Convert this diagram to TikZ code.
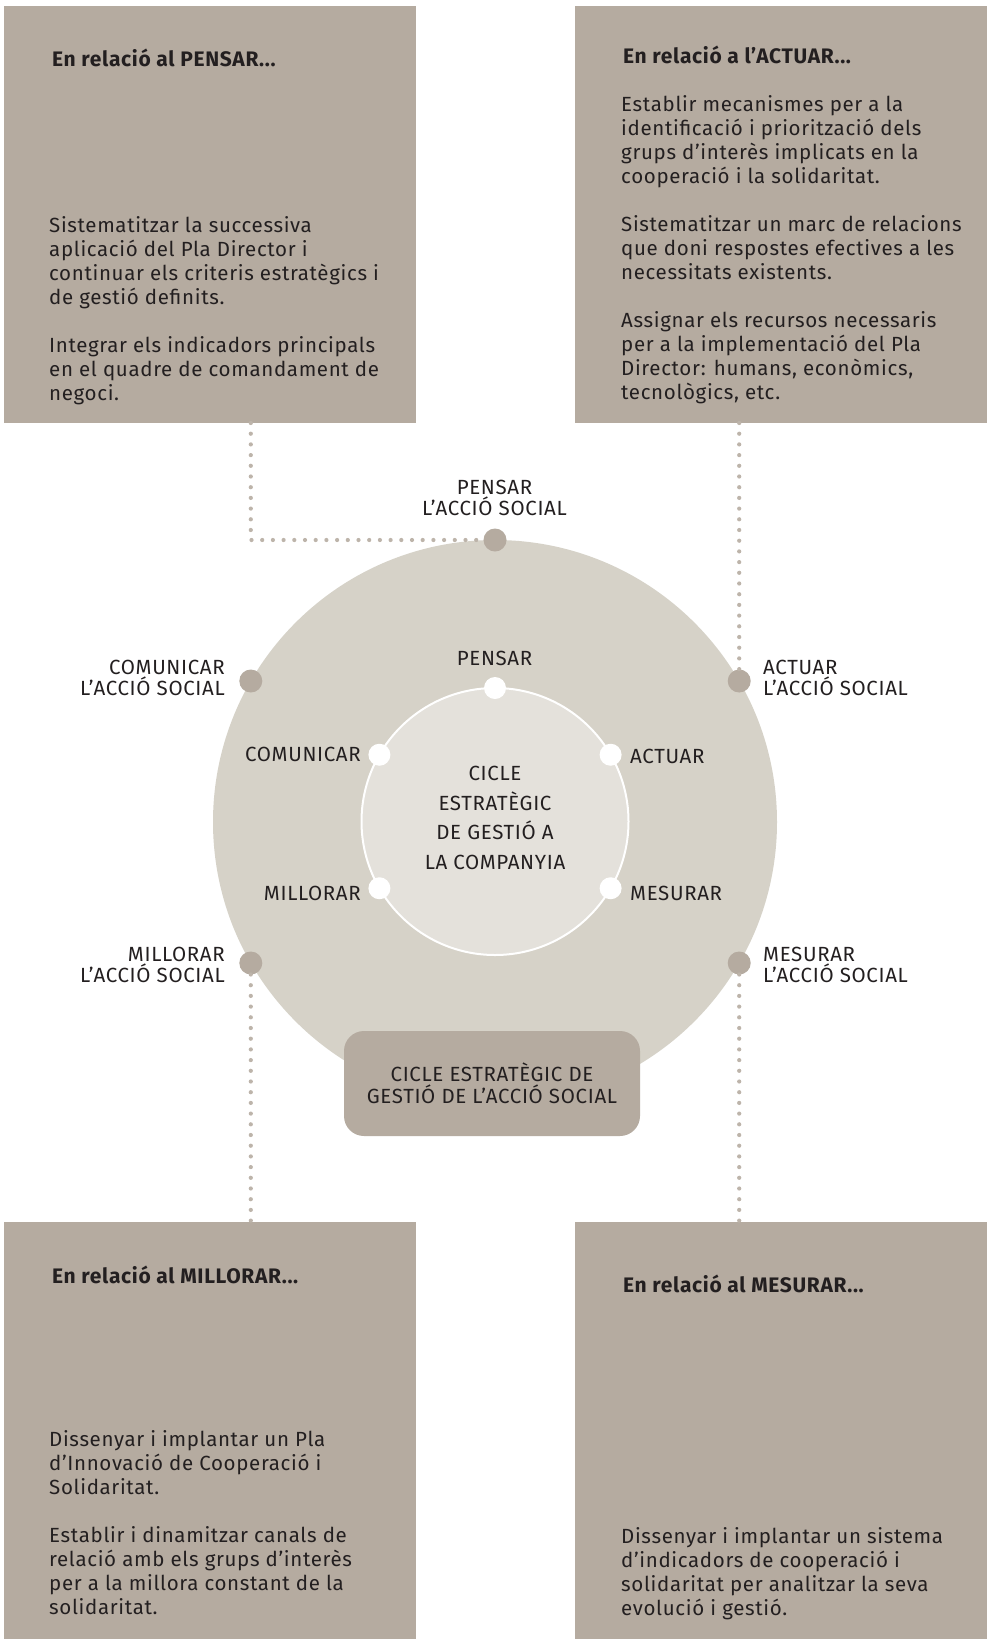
\documentclass[tikz,border=0pt]{standalone}
\usepackage{fontspec}
\setmainfont{Fira Sans}[LetterSpace=3.2]
\definecolor{boxc}{HTML}{B5ABA0}
\definecolor{outerc}{HTML}{D6D2C8}
\definecolor{innerc}{HTML}{E4E1DB}
\definecolor{dotc}{HTML}{BDB4AA}
\definecolor{txt}{HTML}{231F20}
\begin{document}
\begin{tikzpicture}[x=1pt,y=-1pt,
  panel/.style={fill=boxc, draw=none, minimum width=412pt, minimum height=417pt, inner sep=0pt, outer sep=0pt, anchor=north west},
  head/.style={font=\bfseries\fontsize{21}{24}\selectfont, text=txt, anchor=base west, inner sep=0pt},
  body/.style={font=\fontsize{20.5}{24}\selectfont, text=txt, align=left, anchor=base west, inner sep=0pt},
  lab/.style={font=\fontsize{20.5}{21}\selectfont, text=txt, inner sep=0pt},
  odot/.style={circle, fill=boxc, minimum size=23pt, inner sep=0pt, outer sep=0pt},
  idot/.style={circle, fill=white, minimum size=22pt, inner sep=0pt, outer sep=0pt},
  dotline/.style={draw=dotc, line width=4.2pt, line cap=round, dash pattern=on 0pt off 10.7pt}
]
\useasboundingbox (0,0) rectangle (991,1639);
\fill[white] (0,0) rectangle (991,1639);

% panels
\node[panel] (tlbox) at (4,6) {};
\node[panel] (trbox) at (575,6) {};
\node[panel] (blbox) at (4,1222) {};
\node[panel] (brbox) at (575,1222) {};

% circles
\node[circle, fill=outerc, minimum size=564pt, inner sep=0pt] (outer) at (495,822) {};
\node[circle, fill=innerc, draw=white, line width=2pt, minimum size=267pt, inner sep=0pt] (inner) at (495,821.5) {};

% outer dots
\node[odot] (oPensar) at (495,540) {};
\node[odot] (oComunicar) at (250.8,681) {};
\node[odot] (oActuar) at (739.2,681) {};
\node[odot] (oMillorar) at (250.8,963) {};
\node[odot] (oMesurar) at (739.2,963) {};

% inner dots
\node[idot] (iPensar) at (495,688) {};
\node[idot] (iComunicar) at (379.4,754.75) {};
\node[idot] (iActuar) at (610.6,754.75) {};
\node[idot] (iMillorar) at (379.4,888.25) {};
\node[idot] (iMesurar) at (610.6,888.25) {};

% bottom label box
\node[fill=boxc, rounded corners=20pt, minimum width=296pt, minimum height=105pt, inner sep=0pt,
  font=\fontsize{20.5}{22}\selectfont, text=txt, align=center] (cycle) at (492,1083.5)
  {CICLE ESTRATÈGIC DE\\GESTIÓ DE L’ACCIÓ SOCIAL};

% connectors
\draw[dotline] (tlbox.south -| oComunicar) |- (oPensar.west);
\draw[dotline] (trbox.south -| oActuar) -- (oActuar.north);
\draw[dotline] (oMillorar.south) -- (blbox.north -| oMillorar);
\draw[dotline] (oMesurar.south) -- (brbox.north -| oMesurar);

% outer labels (base = last line)
\node[lab, align=center, anchor=base] (lPensar) at (494.5,515) {PENSAR\\L’ACCIÓ SOCIAL};
\node[lab, align=right, anchor=base east] (lComunicar) at (225,695) {COMUNICAR\\L’ACCIÓ SOCIAL};
\node[lab, align=left, anchor=base west] (lActuar) at (763,695) {ACTUAR\\L’ACCIÓ SOCIAL};
\node[lab, align=right, anchor=base east] (lMillorar) at (225,982) {MILLORAR\\L’ACCIÓ SOCIAL};
\node[lab, align=left, anchor=base west] (lMesurar) at (763,982) {MESURAR\\L’ACCIÓ SOCIAL};

% inner labels
\node[lab, anchor=base] (tPensar) at (494.5,665) {PENSAR};
\node[lab, anchor=base east] (tComunicar) at (361,761) {COMUNICAR};
\node[lab, anchor=base west] (tActuar) at (630,763) {ACTUAR};
\node[lab, anchor=base east] (tMillorar) at (361,900.5) {MILLORAR};
\node[lab, anchor=base west] (tMesurar) at (630,900.5) {MESURAR};

% centre text
\node[font=\fontsize{20.5}{29.5}\selectfont, text=txt, align=center, anchor=base, inner sep=0pt] (centre) at (495,869)
  {CICLE\\ESTRATÈGIC\\DE GESTIÓ A\\LA COMPANYIA};

% panel texts
\node[head] (tlhead) at (52,66) {En relació al PENSAR...};
\node[body] (tlbody) at (49,400) {Sistematitzar la successiva\\aplicació del Pla Director i\\continuar els criteris estratègics i\\de gestió definits.\\[24pt]Integrar els indicadors principals\\en el quadre de comandament de\\negoci.};

\node[head] (trhead) at (623,63) {En relació a l’ACTUAR...};
\node[body] (trbody) at (621,399) {Establir mecanismes per a la\\identificació i priorització dels\\grups d’interès implicats en la\\cooperació i la solidaritat.\\[24pt]Sistematitzar un marc de relacions\\que doni respostes efectives a les\\necessitats existents.\\[24pt]Assignar els recursos necessaris\\per a la implementació del Pla\\Director: humans, econòmics,\\tecnològics, etc.};

\node[head] (blhead) at (52,1283) {En relació al MILLORAR...};
\node[body] (blbody) at (49,1614) {Dissenyar i implantar un Pla\\d’Innovació de Cooperació i\\Solidaritat.\\[24pt]Establir i dinamitzar canals de\\relació amb els grups d’interès\\per a la millora constant de la\\solidaritat.};

\node[head] (brhead) at (623,1292) {En relació al MESURAR...};
\node[body] (brbody) at (621,1615) {Dissenyar i implantar un sistema\\d’indicadors de cooperació i\\solidaritat per analitzar la seva\\evolució i gestió.};
\end{tikzpicture}
\end{document}
